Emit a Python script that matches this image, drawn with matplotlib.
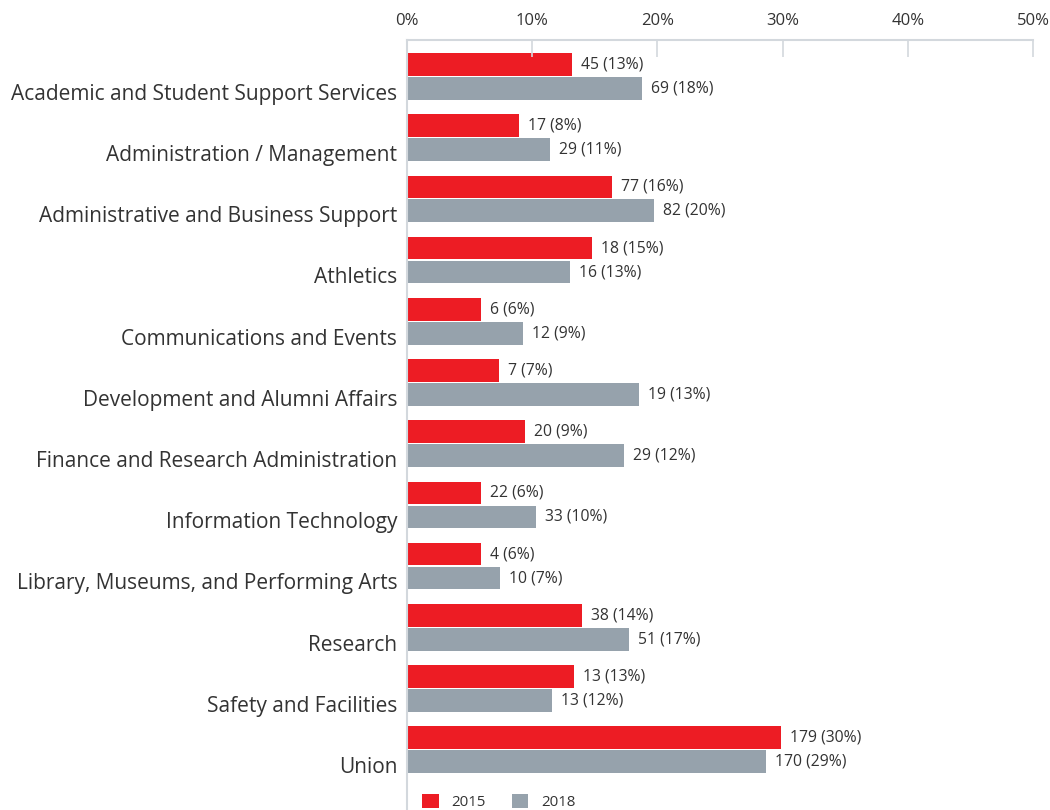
import matplotlib
matplotlib.use("Agg")
import matplotlib.pyplot as plt
from matplotlib.patches import Patch
import numpy as np

categories = [
    "Academic and Student Support Services",
    "Administration / Management",
    "Administrative and Business Support",
    "Athletics",
    "Communications and Events",
    "Development and Alumni Affairs",
    "Finance and Research Administration",
    "Information Technology",
    "Library, Museums, and Performing Arts",
    "Research",
    "Safety and Facilities",
    "Union",
]
# bar lengths (percent) as drawn
bar_2015 = [13.2, 8.95, 16.4, 14.8, 5.9, 7.35, 9.4, 5.9, 5.9, 14.0, 13.3, 29.9]
bar_2018 = [18.8, 11.4, 19.7, 13.0, 9.3, 18.5, 17.3, 10.3, 7.4, 17.7, 11.6, 28.7]
# label values
count_2015 = [45, 17, 77, 18, 6, 7, 20, 22, 4, 38, 13, 179]
pct_2015 = [13, 8, 16, 15, 6, 7, 9, 6, 6, 14, 13, 30]
count_2018 = [69, 29, 82, 16, 12, 19, 29, 33, 10, 51, 13, 170]
pct_2018 = [18, 11, 20, 13, 9, 13, 12, 10, 7, 17, 12, 29]
series_names = ["2015", "2018"]
x_ticks = [0, 10, 20, 30, 40, 50]

RED = "#ED1C24"
GRAY = "#96A2AC"
TEXT = "#333333"
AXC = "#D3D8DD"

plt.rcParams["font.family"] = ["Open Sans", "DejaVu Sans"]

fig = plt.figure(figsize=(10.5, 8.1), dpi=100)
ax = fig.add_axes([407 / 1050, 0, 626 / 1050, 770 / 810])

y = np.arange(len(categories))
off = 0.195
h = 0.37
ax.barh(y - off, bar_2015, height=h, color=RED, edgecolor="none")
ax.barh(y + off, bar_2018, height=h, color=GRAY, edgecolor="none")

for i in range(len(categories)):
    ax.annotate(f"{count_2015[i]} ({pct_2015[i]}%)", (bar_2015[i], y[i] - off),
                xytext=(6.5, 0), textcoords="offset points", va="center", ha="left",
                fontsize=11.3, color=TEXT)
    ax.annotate(f"{count_2018[i]} ({pct_2018[i]}%)", (bar_2018[i], y[i] + off),
                xytext=(6.5, 0), textcoords="offset points", va="center", ha="left",
                fontsize=11.3, color=TEXT)

ax.set_xlim(0, 50)
ax.set_ylim(11.985, -0.596)
ax.set_yticks(y + 0.25)
ax.set_yticklabels(categories, fontsize=15, color=TEXT)
ax.tick_params(axis="y", length=0, pad=7)

ax.xaxis.tick_top()
ax.set_xticks(x_ticks)
ax.set_xticklabels([f"{t}%" for t in x_ticks], fontsize=12, color=TEXT)
ax.tick_params(axis="x", direction="in", length=12, width=1.2, color=AXC, pad=8)

for s in ["right", "bottom"]:
    ax.spines[s].set_visible(False)
for s in ["top", "left"]:
    ax.spines[s].set_color(AXC)
    ax.spines[s].set_linewidth(1.5)

handles = [Patch(facecolor=RED, edgecolor="none"), Patch(facecolor=GRAY, edgecolor="none")]
fig.legend(handles, series_names, loc="center left", bbox_to_anchor=(422 / 1050, 8 / 810),
           ncol=2, frameon=False, fontsize=10.8, handlelength=1.1, handleheight=1.1,
           handletextpad=0.85, columnspacing=1.75, borderpad=0, borderaxespad=0,
           labelcolor=TEXT)

fig.savefig("out.png", dpi=100)
